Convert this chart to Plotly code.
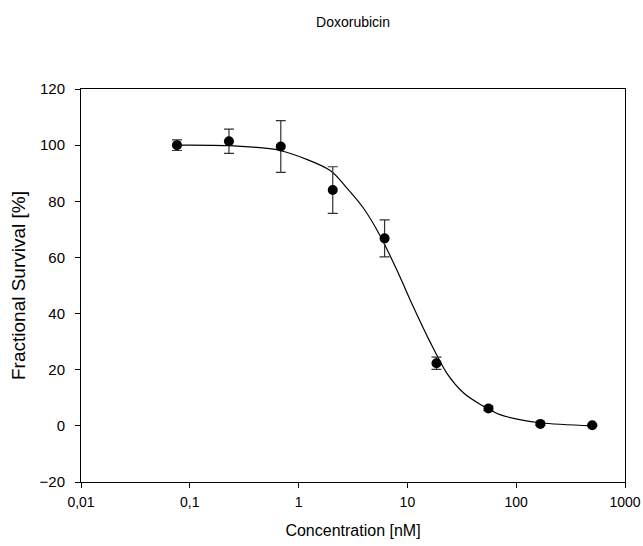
import plotly.graph_objects as go

# Measured data (tripling dilution series, nM)
conc = [0.0762, 0.229, 0.686, 2.06, 6.17, 18.5, 55.6, 166.7, 500]
survival = [100.0, 101.4, 99.5, 84.0, 66.8, 22.3, 6.2, 0.7, 0.2]
err = [1.9, 4.3, 9.2, 8.3, 6.6, 2.2, 0.8, 0.5, 0.3]

# Fitted curve
fit_conc = [0.0762, 0.226, 0.674, 1.95, 2.77, 3.94, 5.60, 7.98, 11.3, 16.1, 23.0, 32.7, 46.5, 71.0, 167, 500]
fit_surv = [100.0, 99.8, 98.1, 91.0, 84.8, 77.6, 67.8, 55.6, 42.5, 30.0, 18.8, 11.8, 7.7, 4.0, 1.1, 0.0]

x_tickvals = [0.01, 0.1, 1, 10, 100, 1000]
x_ticktext = ["0,01", "0,1", "1", "10", "100", "1000"]
y_tickvals = [-20, 0, 20, 40, 60, 80, 100, 120]

FONT = "Liberation Sans, Arial, sans-serif"

fig = go.Figure()
fig.add_trace(go.Scatter(
    x=fit_conc, y=fit_surv, mode="lines",
    line=dict(color="black", width=1.2, shape="spline", smoothing=0.8),
    hoverinfo="skip", showlegend=False,
))
fig.add_trace(go.Scatter(
    x=conc, y=survival, mode="markers",
    marker=dict(color="black", size=10),
    error_y=dict(type="data", array=err, visible=True, color="#333333", thickness=1.2, width=5),
    showlegend=False,
))

fig.update_layout(
    width=643, height=546,
    margin=dict(l=81, r=18, t=89, b=64),
    paper_bgcolor="white", plot_bgcolor="white",
    font=dict(family=FONT, color="black", size=15),
    title=dict(text="Doxorubicin", x=0.549, xanchor="center", y=0.96, yanchor="middle",
               font=dict(size=14, family=FONT, color="black")),
)
fig.update_xaxes(
    type="log", range=[-2, 3],
    tickvals=x_tickvals, ticktext=x_ticktext,
    ticks="outside", ticklen=5, tickwidth=1, tickcolor="black",
    showline=True, linecolor="black", linewidth=1, mirror=True,
    showgrid=False, zeroline=False, automargin=False,
    tickfont=dict(size=14), ticklabelstandoff=2,
    title=dict(text="Concentration [nM]", font=dict(size=16), standoff=16),
)
fig.update_yaxes(
    range=[-20, 120], tickvals=y_tickvals,
    ticks="outside", ticklen=5, tickwidth=1, tickcolor="black",
    showline=True, linecolor="black", linewidth=1, mirror=True,
    showgrid=False, zeroline=False, automargin=False,
    tickfont=dict(size=15), ticklabelstandoff=7,
    title=dict(text="Fractional Survival [%]", font=dict(size=19), standoff=8),
)

fig.write_html(
    "out.html",
    config={"displayModeBar": False},
    post_script="document.body.style.margin='0';document.body.style.overflow='hidden';",
)
